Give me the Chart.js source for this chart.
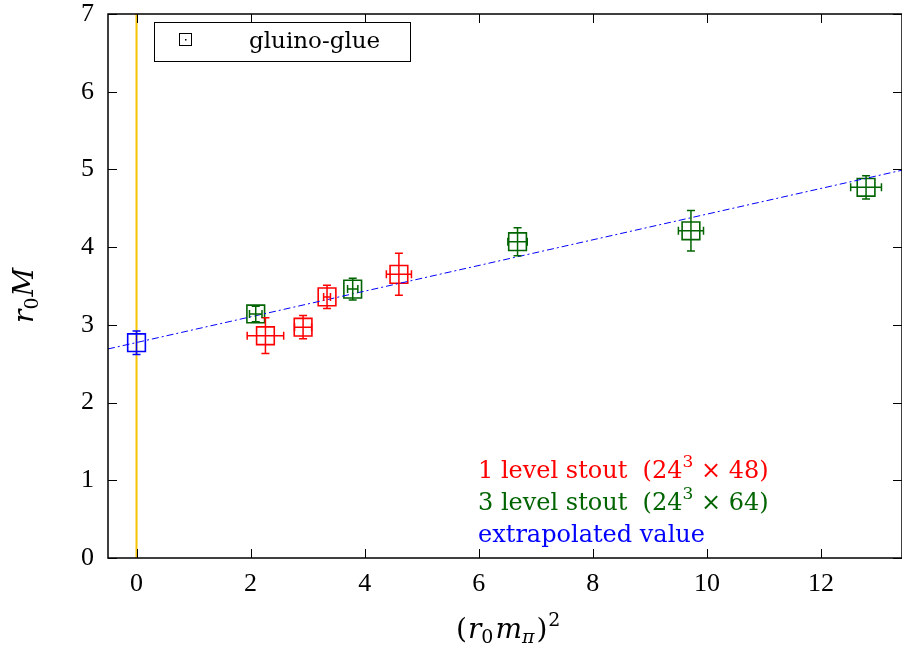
<!DOCTYPE html>
<html>
<head>
<meta charset="utf-8">
<script src="https://cdn.jsdelivr.net/npm/chart.js@4.4.0/dist/chart.umd.min.js"></script>
<style>
  html, body { margin: 0; padding: 0; background: #fff; }
  #wrap { width: 902px; height: 648px; }
</style>
</head>
<body>
<div id="wrap"><canvas id="massPlot" width="902" height="648"></canvas></div>
<script>
//----------------------------------------------
// data
//----------------------------------------------
const xTicks = [0, 2, 4, 6, 8, 10, 12];
const yTicks = [0, 1, 2, 3, 4, 5, 6, 7];

// 1 level stout (24^3 x 48)
const oneLvlX    = [2.26, 2.92, 3.34, 4.60];
const oneLvlY    = [2.86, 2.97, 3.36, 3.65];
const oneLvlXErr = [0.32, 0.15, 0.06, 0.22];
const oneLvlYErr = [0.23, 0.15, 0.15, 0.27];

// 3 level stout (24^3 x 64)
const threeLvlX    = [2.09, 3.79, 6.68, 9.72, 12.79];
const threeLvlY    = [3.14, 3.46, 4.07, 4.21, 4.77];
const threeLvlXErr = [0.11, 0.09, 0.17, 0.22, 0.27];
const threeLvlYErr = [0.10, 0.14, 0.18, 0.26, 0.15];

// extrapolated value
const extrapX    = [0];
const extrapY    = [2.77];
const extrapXErr = [0];
const extrapYErr = [0.15];

// linear fit line (end points) and the chiral limit marker
const fitX = [-0.5, 13.42];
const fitY = [2.69, 4.99];
const chiralX = [0, 0];
const chiralY = [0, 7];

const RED = '#ff0000';
const GREEN = '#006400';
const BLUE = '#0000ff';
const TICKFONT = '"Liberation Serif", "DejaVu Serif", serif';
const TEXTFONT = '"DejaVu Serif", "Liberation Serif", serif';

function pts(xs, ys) {
  return xs.map((x, i) => ({x: x, y: ys[i]}));
}

const boxPoint = (color) => ({
  showLine: false,
  pointStyle: 'rect',
  pointRadius: 12.5,
  pointHoverRadius: 12.5,
  pointBorderWidth: 1.6,
  pointBorderColor: color,
  pointBackgroundColor: 'rgba(0,0,0,0)',
  borderColor: color
});

//----------------------------------------------
// error bars + inward ticks + labels
//----------------------------------------------
const decorPlugin = {
  id: 'decor',
  beforeDatasetsDraw(chart) {
    // chiral limit line x = 0, full height
    const c = chart.ctx;
    const xs = chart.scales.x, ys = chart.scales.y;
    const px = xs.getPixelForValue(chiralX[0]);
    c.save();
    c.strokeStyle = '#f5c400';
    c.lineWidth = 2;
    c.beginPath();
    c.moveTo(px, ys.getPixelForValue(chiralY[0]));
    c.lineTo(px, ys.getPixelForValue(chiralY[1]));
    c.stroke();
    c.restore();
  },
  afterDatasetsDraw(chart) {
    const c = chart.ctx;
    const xs = chart.scales.x, ys = chart.scales.y;
    chart.data.datasets.forEach((ds) => {
      if (!ds.xErr) return;
      c.save();
      c.strokeStyle = ds.borderColor;
      c.lineWidth = 1.5;
      ds.data.forEach((p, i) => {
        const px = xs.getPixelForValue(p.x), py = ys.getPixelForValue(p.y);
        const y1 = ys.getPixelForValue(p.y - ds.yErr[i]);
        const y2 = ys.getPixelForValue(p.y + ds.yErr[i]);
        const x1 = xs.getPixelForValue(p.x - ds.xErr[i]);
        const x2 = xs.getPixelForValue(p.x + ds.xErr[i]);
        const cap = 4;
        c.beginPath();
        c.moveTo(px, y1); c.lineTo(px, y2);
        c.moveTo(px - cap, y1); c.lineTo(px + cap, y1);
        c.moveTo(px - cap, y2); c.lineTo(px + cap, y2);
        if (ds.xErr[i] > 0) {
          c.moveTo(x1, py); c.lineTo(x2, py);
          c.moveTo(x1, py - cap); c.lineTo(x1, py + cap);
          c.moveTo(x2, py - cap); c.lineTo(x2, py + cap);
        }
        c.stroke();
      });
      c.restore();
    });
  },
  afterDraw(chart) {
    const c = chart.ctx;
    const a = chart.chartArea;
    const xs = chart.scales.x, ys = chart.scales.y;
    c.save();
    // frame
    c.strokeStyle = '#000';
    c.lineWidth = 1.5;
    c.strokeRect(a.left, a.top, a.right - a.left, a.bottom - a.top);
    // inward ticks on all four sides
    c.lineWidth = 1;
    c.beginPath();
    xTicks.forEach(v => {
      const px = Math.round(xs.getPixelForValue(v)) + 0.5;
      c.moveTo(px, a.bottom); c.lineTo(px, a.bottom - 9);
      c.moveTo(px, a.top); c.lineTo(px, a.top + 9);
    });
    yTicks.forEach(v => {
      const py = Math.round(ys.getPixelForValue(v)) + 0.5;
      c.moveTo(a.left, py); c.lineTo(a.left + 9, py);
      c.moveTo(a.right, py); c.lineTo(a.right - 9, py);
    });
    c.stroke();

    // key box
    c.fillStyle = '#fff';
    c.fillRect(154, 22, 256, 39);
    c.strokeStyle = '#000';
    c.lineWidth = 1;
    c.strokeRect(154.5, 22.5, 256, 39);
    c.strokeRect(179.5, 33.5, 12, 12);
    c.fillStyle = '#000';
    c.fillRect(185, 39, 1.5, 1.5);
    c.font = '23px ' + TEXTFONT;
    c.textBaseline = 'alphabetic';
    c.textAlign = 'left';
    c.fillText('gluino-glue', 249, 48);

    // series notes (with superscript)
    function note(parts, x, y, color) {
      c.fillStyle = color;
      let cx = x;
      parts.forEach(p => {
        c.font = (p.sup ? '17px ' : '24px ') + TEXTFONT;
        c.fillText(p.t, cx, p.sup ? y - 11 : y);
        cx += c.measureText(p.t).width;
      });
    }
    note([{t: '1 level stout  (24'}, {t: '3', sup: true}, {t: ' \u00d7 48)'}], 478, 478, RED);
    note([{t: '3 level stout  (24'}, {t: '3', sup: true}, {t: ' \u00d7 64)'}], 478, 510, GREEN);
    note([{t: 'extrapolated value'}], 478, 542, BLUE);

    // x axis title (r0 m_pi)^2
    c.fillStyle = '#000';
    const bx = 456, by = 638;
    let cx = bx;
    const seg = (t, f, dy, gap) => { c.font = f; c.fillText(t, cx, by + (dy || 0)); cx += c.measureText(t).width + (gap || 0); };
    seg('(', '28px ' + TEXTFONT, 0, 1);
    seg('r', 'italic 28px ' + TEXTFONT);
    seg('0', '19px ' + TEXTFONT, 5, 2);
    seg('m', 'italic 28px ' + TEXTFONT);
    seg('\u03c0', 'italic 19px ' + TEXTFONT, 5, 2);
    seg(')', '28px ' + TEXTFONT, 0, 1);
    seg('2', '19px ' + TEXTFONT, -12);

    // y axis title r0 M (rotated)
    c.translate(33, 291);
    c.rotate(-Math.PI / 2);
    cx = -32;
    const seg2 = (t, f, dy, gap) => { c.font = f; c.fillText(t, cx, dy || 0); cx += c.measureText(t).width + (gap || 0); };
    seg2('r', 'italic 28px ' + TEXTFONT);
    seg2('0', '19px ' + TEXTFONT, 5, 1);
    seg2('M', 'italic 28px ' + TEXTFONT);
    c.restore();
  }
};

//----------------------------------------------
// chart
//----------------------------------------------
const ctx = document.getElementById('massPlot').getContext('2d');

const massPlot = new Chart(ctx, {
  type: 'scatter',
  data: {
    datasets: [
      {
        label: 'fit',
        data: pts(fitX, fitY),
        showLine: true,
        borderColor: BLUE,
        borderWidth: 1,
        borderDash: [7, 3, 2, 3],
        pointRadius: 0
      },
      Object.assign({
        label: '1 level stout',
        data: pts(oneLvlX, oneLvlY),
        xErr: oneLvlXErr,
        yErr: oneLvlYErr
      }, boxPoint(RED)),
      Object.assign({
        label: '3 level stout',
        data: pts(threeLvlX, threeLvlY),
        xErr: threeLvlXErr,
        yErr: threeLvlYErr
      }, boxPoint(GREEN)),
      Object.assign({
        label: 'extrapolated value',
        data: pts(extrapX, extrapY),
        xErr: extrapXErr,
        yErr: extrapYErr
      }, boxPoint(BLUE))
    ]
  },
  options: {
    responsive: false,
    animation: false,
    events: [],
    layout: { autoPadding: false, padding: { top: 14, right: 0, left: 0, bottom: 0 } },
    plugins: {
      legend: { display: false },
      tooltip: { enabled: false }
    },
    scales: {
      x: {
        type: 'linear',
        min: -0.5,
        max: 13.42,
        afterBuildTicks: (s) => { s.ticks = xTicks.map(v => ({value: v})); },
        afterFit: (s) => { s.height = 90; s.paddingLeft = 0; s.paddingRight = 0; },
        grid: { display: false, drawTicks: false },
        border: { display: false },
        ticks: {
          padding: 11,
          color: '#000',
          font: { family: TICKFONT, size: 26 },
          maxRotation: 0
        }
      },
      y: {
        type: 'linear',
        min: 0,
        max: 7,
        afterBuildTicks: (s) => { s.ticks = yTicks.map(v => ({value: v})); },
        afterFit: (s) => { s.width = 108; s.paddingTop = 0; s.paddingBottom = 0; },
        grid: { display: false, drawTicks: false },
        border: { display: false },
        ticks: {
          padding: 14,
          color: '#000',
          font: { family: TICKFONT, size: 26 }
        }
      }
    }
  },
  plugins: [decorPlugin]
});
</script>
</body>
</html>
